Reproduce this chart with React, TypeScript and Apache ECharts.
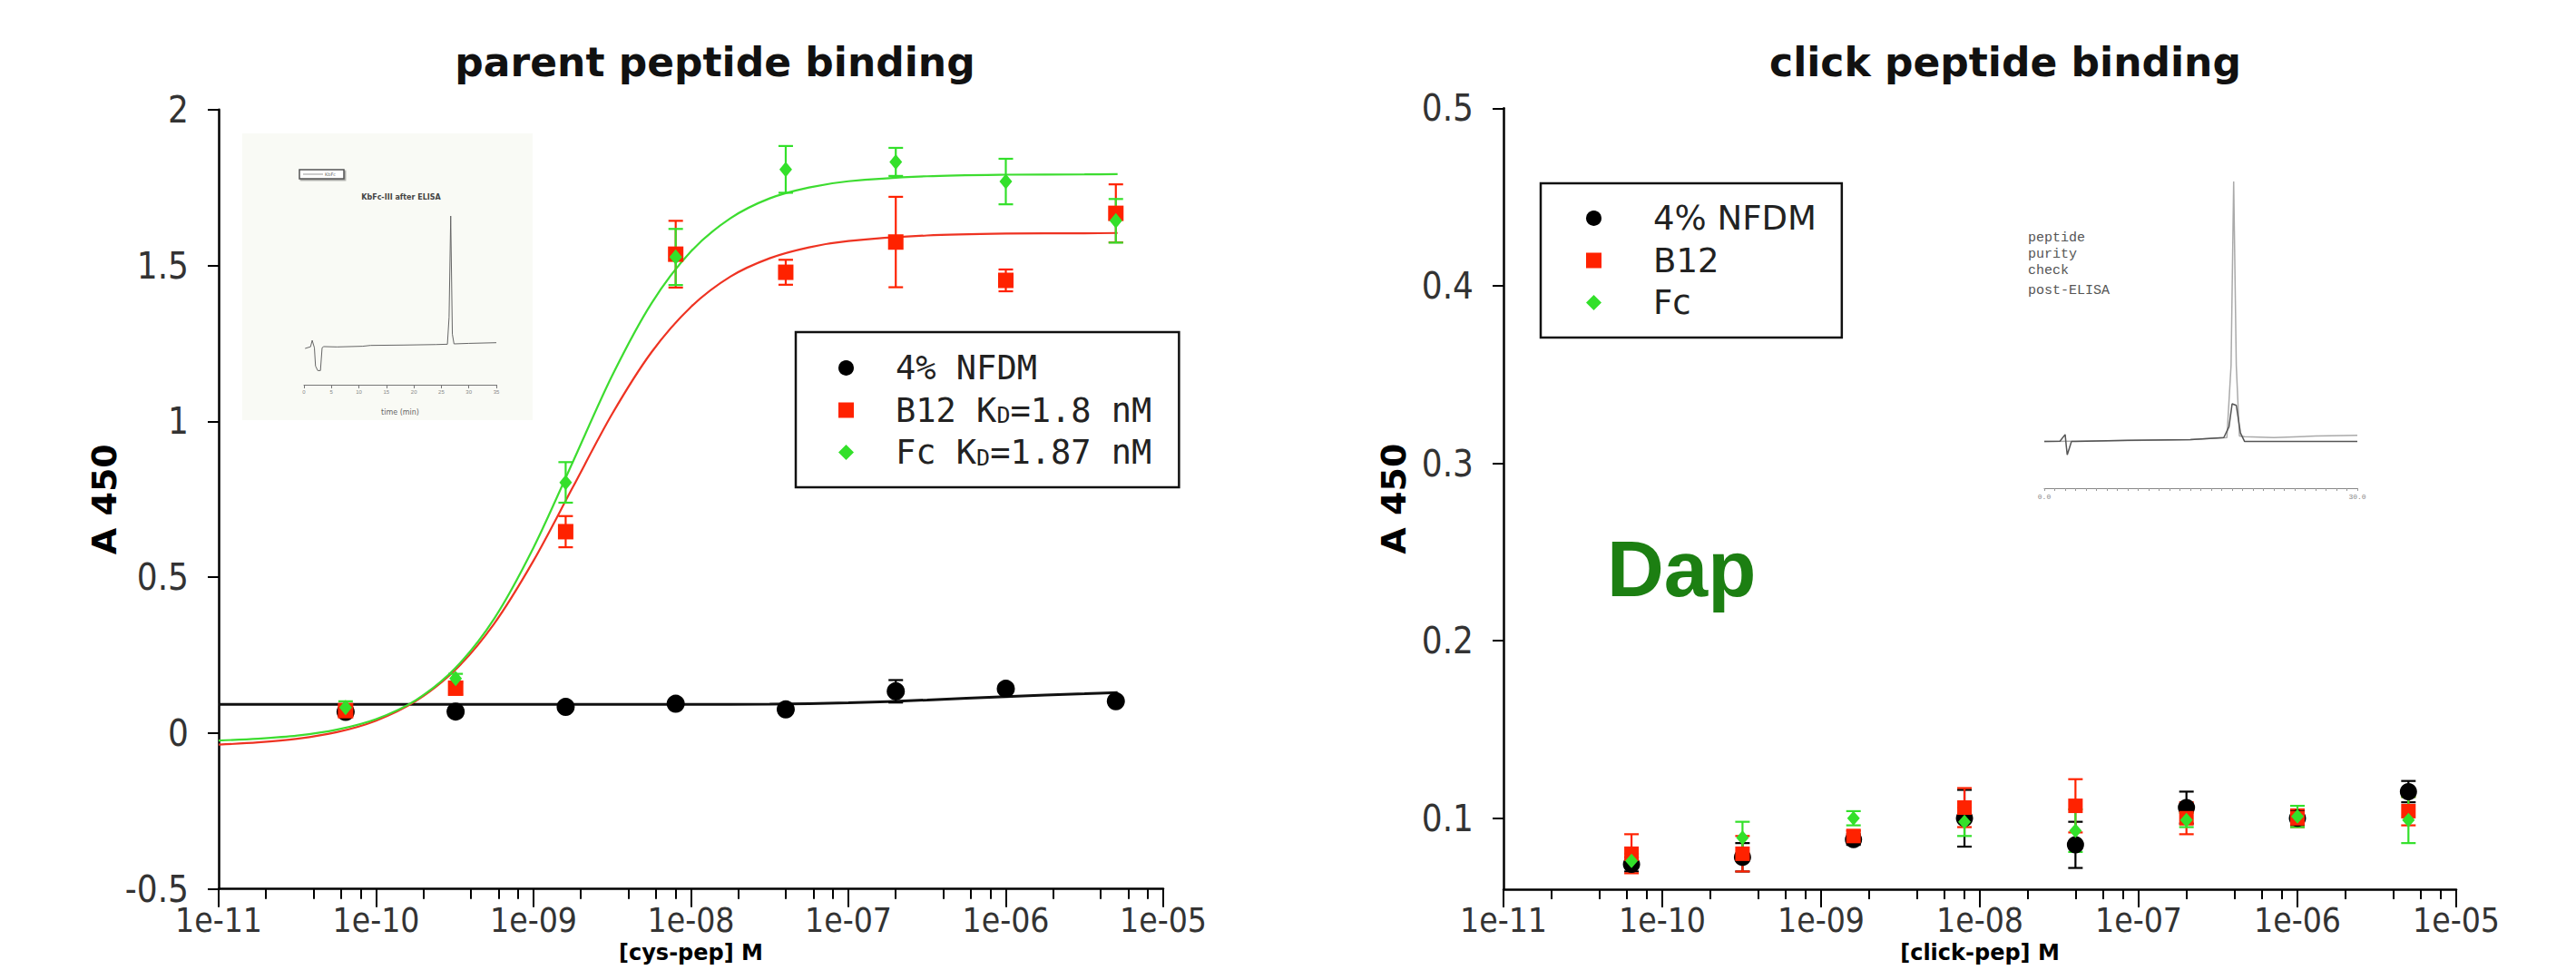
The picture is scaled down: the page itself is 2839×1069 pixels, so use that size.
import React, { useEffect, useRef } from 'react';
import * as echarts from 'echarts';

// ---------- data ----------
const concM = [6.4e-11, 3.2e-10, 1.6e-9, 8e-9, 4e-8, 2e-7, 1e-6, 5e-6];
const xTickLog = [-11, -10, -9, -8, -7, -6, -5];
const xTickLabels = ['1e-11', '1e-10', '1e-09', '1e-08', '1e-07', '1e-06', '1e-05'];
const minorMultipliers = [2, 4, 6, 8];

const clickYTicks = [0.1, 0.2, 0.3, 0.4, 0.5];

const parentNFDM = [0.068, 0.069, 0.084, 0.094, 0.076, 0.134, 0.142, 0.102];
const parentNFDMErr = [0.01, 0.008, 0.008, 0.008, 0.008, 0.036, 0.012, 0.01];
const parentB12 = [0.072, 0.144, 0.646, 1.536, 1.478, 1.575, 1.452, 1.667];
const parentB12Err = [0.02, 0.02, 0.05, 0.107, 0.04, 0.145, 0.035, 0.093];
const parentFc = [0.082, 0.175, 0.804, 1.527, 1.808, 1.832, 1.769, 1.643];
const parentFcErr = [0.02, 0.015, 0.065, 0.09, 0.075, 0.045, 0.073, 0.07];

// fitted curves (x in log10 M)
const fitLogConc = [-11, -10.75, -10.5, -10.25, -10, -9.75, -9.5, -9.25, -9, -8.75, -8.5, -8.25, -8, -7.75, -7.5, -7.25, -7, -6.5, -6, -5.5, -5.29];
const fitFc = [-0.024, -0.018, -0.008, 0.011, 0.045, 0.105, 0.207, 0.367, 0.595, 0.87, 1.147, 1.379, 1.545, 1.651, 1.715, 1.75, 1.77, 1.786, 1.791, 1.792, 1.793];
const fitB12 = [-0.037, -0.03, -0.018, 0.003, 0.04, 0.102, 0.201, 0.351, 0.553, 0.789, 1.024, 1.222, 1.367, 1.464, 1.523, 1.558, 1.578, 1.596, 1.602, 1.603, 1.604];
const fitNFDMLogConc = [-11, -9, -8, -7.5, -7, -6.5, -6, -5.5, -5.29];
const fitNFDM = [0.092, 0.092, 0.092, 0.093, 0.097, 0.106, 0.117, 0.126, 0.13];

const clickNFDM = [0.074, 0.078, 0.088, 0.1, 0.085, 0.106, 0.1, 0.115];
const clickNFDMErr = [0.004, 0.008, 0.003, 0.016, 0.013, 0.009, 0.004, 0.006];
const clickB12 = [0.08, 0.08, 0.09, 0.106, 0.107, 0.1, 0.1, 0.104];
const clickB12Err = [0.011, 0.01, 0.003, 0.011, 0.015, 0.009, 0.005, 0.008];
const clickFc = [0.076, 0.089, 0.1, 0.098, 0.093, 0.099, 0.101, 0.099];
const clickFcErr = [0.004, 0.009, 0.004, 0.008, 0.012, 0.004, 0.006, 0.013];

// inset chromatograms (time in min, signal in arbitrary units)
const kbTime = [0.2, 1.2, 1.5, 1.9, 2.1, 2.5, 3.0, 3.3, 3.6, 6, 10.7, 12.1, 18, 24, 26.1, 26.4, 26.7, 27.0, 27.3, 30, 35];
const kbSignal = [21.5, 22.5, 26.3, 21.9, 11.1, 8.4, 8.4, 21.9, 22.6, 22.4, 22.8, 23.3, 23.5, 23.8, 24, 40, 100, 30, 24.2, 24.5, 24.9];

const purityTimeDark = [0, 1.5, 2.0, 2.1, 2.2, 2.4, 2.6, 3, 8, 14, 17.2, 17.7, 18.0, 18.4, 18.8, 19.2, 22, 26, 30];
const puritySignalDark = [15.2, 15.3, 17.5, 14, 10.9, 13, 15.2, 15.2, 15.6, 15.8, 16.5, 20, 27.5, 27, 18, 15.2, 15.2, 15.2, 15.2];
const purityTimeLight = [0, 8, 14, 17.5, 17.9, 18.15, 18.4, 18.7, 19.2, 22, 26, 30];
const puritySignalLight = [15.2, 15.5, 15.8, 16.5, 40, 100, 40, 17, 16.8, 16.5, 17, 17.2];
const purityAxisLabels = [0, 30];

const parentLegendNames = ['NFDM (parent)', 'B12 (parent)', 'Fc (parent)'];
const parentLegendLabels = ['4% NFDM', 'B12 K{sub|D}=1.8 nM', 'Fc K{sub|D}=1.87 nM'];
const clickLegendNames = ['NFDM (click)', 'B12 (click)', 'Fc (click)'];
const clickLegendLabels = ['4% NFDM', 'B12', 'Fc'];
const insetNoteLines = ['peptide', 'purity', 'check', 'post-ELISA'];

// ---------- styles ----------
const BLACK = '#000000';
const RED = '#ff2200';
const GREEN = '#33e02a';
const TICK_FONT = "'DejaVu Sans Condensed', 'DejaVu Sans', sans-serif";
const BOLD_FONT = "'DejaVu Sans', sans-serif";

const fmtX = (v: number) => {
  const i = xTickLog.indexOf(Math.round(v));
  return i >= 0 ? xTickLabels[i] : '';
};

const minorTicks: number[] = [];
xTickLog.slice(0, -1).forEach((d) => minorMultipliers.forEach((m) => minorTicks.push(d + Math.log10(m))));

function majorXAxis(gridIndex: number, name: string) {
  return {
    type: 'value', gridIndex, min: -11, max: -5, position: 'bottom',
    name, nameLocation: 'middle', nameGap: 57,
    nameTextStyle: { fontFamily: BOLD_FONT, fontWeight: 'bold', fontSize: 24, color: '#000' },
    axisLine: { show: true, onZero: false, lineStyle: { color: '#000', width: 2.5 } },
    axisTick: { show: true, length: 20, customValues: xTickLog, lineStyle: { color: '#000', width: 2 } },
    axisLabel: { customValues: xTickLog, formatter: fmtX, margin: 16, fontSize: 37, color: '#333', fontFamily: TICK_FONT },
    splitLine: { show: false },
  };
}
function minorXAxis(gridIndex: number) {
  return {
    type: 'value', gridIndex, min: -11, max: -5, position: 'bottom',
    axisLine: { show: false, onZero: false },
    axisTick: { show: true, length: 11, customValues: minorTicks, lineStyle: { color: '#000', width: 2 } },
    axisLabel: { show: false },
    splitLine: { show: false },
  };
}
function yAxisBase(gridIndex: number, extra: any) {
  return {
    type: 'value', gridIndex,
    name: 'A 450', nameLocation: 'middle', nameRotate: 90,
    nameTextStyle: { fontFamily: BOLD_FONT, fontWeight: 'bold', fontSize: 38, color: '#000' },
    axisLine: { show: true, onZero: false, lineStyle: { color: '#000', width: 2.5 } },
    axisTick: { show: true, length: 12, lineStyle: { color: '#000', width: 2 } },
    axisLabel: { margin: 33, fontSize: 40, color: '#333', fontFamily: TICK_FONT },
    splitLine: { show: false },
    ...extra,
  };
}

function errorSeries(name: string, xi: number, yi: number, vals: number[], errs: number[], color: string) {
  return {
    type: 'custom', name, xAxisIndex: xi, yAxisIndex: yi, z: 3,
    data: concM.map((c, i) => [Math.log10(c), vals[i], errs[i]]),
    renderItem: (_p: any, api: any) => {
      const x = api.value(0), y = api.value(1), e = api.value(2);
      const top = api.coord([x, y + e]);
      const bot = api.coord([x, y - e]);
      const hw = 8;
      const style = { stroke: color, lineWidth: 2.2 };
      return {
        type: 'group',
        children: [
          { type: 'line', shape: { x1: top[0], y1: top[1], x2: bot[0], y2: bot[1] }, style },
          { type: 'line', shape: { x1: top[0] - hw, y1: top[1], x2: top[0] + hw, y2: top[1] }, style },
          { type: 'line', shape: { x1: bot[0] - hw, y1: bot[1], x2: bot[0] + hw, y2: bot[1] }, style },
        ],
      };
    },
  };
}
function pointSeries(name: string, xi: number, yi: number, vals: number[], color: string, symbol: string, size: any) {
  return {
    type: 'scatter', name, xAxisIndex: xi, yAxisIndex: yi, z: 4,
    symbol, symbolSize: size, itemStyle: { color, opacity: 1 },
    data: concM.map((c, i) => [Math.log10(c), vals[i]]),
  };
}
function fitSeries(name: string, xs: number[], ys: number[], color: string, width: number) {
  return {
    type: 'line', name, xAxisIndex: 0, yAxisIndex: 0, z: 2, smooth: 0.3, showSymbol: false,
    lineStyle: { color, width }, itemStyle: { color },
    data: xs.map((x, i) => [x, ys[i]]),
  };
}

function legendCfg(left: number, top: number, padding: number[], names: string[], labels: string[], font: string, textPad: number, lineH: number) {
  return {
    orient: 'vertical', left, top, padding,
    itemWidth: 17, itemHeight: 17, itemGap: 9.5,
    borderColor: '#111', borderWidth: 2.5, backgroundColor: '#fff',
    selectedMode: false,
    data: [
      { name: names[0], icon: 'circle' },
      { name: names[1], icon: 'rect' },
      { name: names[2], icon: 'diamond' },
    ],
    formatter: (n: string) => labels[names.indexOf(n)],
    textStyle: {
      fontFamily: font, fontSize: 37, color: '#222', lineHeight: lineH, padding: [0, 0, 0, textPad],
      rich: { sub: { fontFamily: font, fontSize: 25, lineHeight: 25, verticalAlign: 'bottom', color: '#222' } },
    },
  };
}

export default function App() {
  const ref = useRef<HTMLDivElement>(null);
  useEffect(() => {
    if (!ref.current) return;
    const chart = echarts.init(ref.current, null, { renderer: 'svg' });
    const gridBase = { containLabel: false, outerBoundsMode: 'none' };
    const option: any = {
      animation: false,
      backgroundColor: '#fff',
      grid: [
        { ...gridBase, left: 241, top: 120.7, width: 1041, height: 859 },
        { ...gridBase, left: 1657, top: 119.3, width: 1050, height: 860.7 },
        { ...gridBase, left: 335, top: 238, width: 212, height: 186 },
        { ...gridBase, left: 2253, top: 200, width: 345, height: 338 },
      ],
      xAxis: [
        majorXAxis(0, '[cys-pep] M'),
        minorXAxis(0),
        majorXAxis(1, '[click-pep] M'),
        minorXAxis(1),
        {
          type: 'value', gridIndex: 2, min: 0, max: 35, interval: 5, position: 'bottom',
          name: 'time (min)', nameLocation: 'middle', nameGap: 26,
          nameTextStyle: { fontSize: 8, color: '#666', fontFamily: 'DejaVu Sans' },
          axisLine: { show: true, onZero: false, lineStyle: { color: '#777', width: 1 } },
          axisTick: { show: true, length: 4, lineStyle: { color: '#777', width: 1 } },
          axisLabel: { fontSize: 6, color: '#888', margin: 5 },
          splitLine: { show: false },
        },
        {
          type: 'value', gridIndex: 3, min: 0, max: 30, interval: 1, position: 'bottom',
          axisLine: { show: true, onZero: false, lineStyle: { color: '#888', width: 1.2 } },
          axisTick: { show: true, length: 3, lineStyle: { color: '#999', width: 1 } },
          axisLabel: { customValues: purityAxisLabels, formatter: (v: number) => v.toFixed(1), fontSize: 8, color: '#888', margin: 5, fontFamily: 'Liberation Mono' },
          splitLine: { show: false },
        },
      ],
      yAxis: [
        yAxisBase(0, { min: -0.5, max: 2, interval: 0.5, nameGap: 103 }),
        yAxisBase(1, {
          min: 0.06, max: 0.5, nameGap: 102,
          axisTick: { show: true, length: 12, customValues: clickYTicks, lineStyle: { color: '#000', width: 2 } },
          axisLabel: { customValues: clickYTicks, margin: 33, fontSize: 40, color: '#333', fontFamily: TICK_FONT },
        }),
        { type: 'value', gridIndex: 2, min: 0, max: 100, show: false },
        { type: 'value', gridIndex: 3, min: 0, max: 100, show: false },
      ],
      legend: [
        legendCfg(877, 366, [21, 30, 20, 47], parentLegendNames, parentLegendLabels, "'DejaVu Sans Mono', monospace", 41, 36),
        legendCfg(1698, 202, [20, 28, 20, 50], clickLegendNames, clickLegendLabels, "'DejaVu Sans', sans-serif", 52, 37),
      ],
      graphic: [
        { type: 'text', x: 788, y: 68, style: { text: 'parent peptide binding', font: `bold 44px ${BOLD_FONT}`, fill: '#111', align: 'center', verticalAlign: 'middle' } },
        { type: 'text', x: 2210, y: 68, style: { text: 'click peptide binding', font: `bold 44px ${BOLD_FONT}`, fill: '#111', align: 'center', verticalAlign: 'middle' } },
        { type: 'rect', z: -1, shape: { x: 267, y: 147, width: 320, height: 316 }, style: { fill: '#f9faf5' } },
        { type: 'rect', shape: { x: 330, y: 187, width: 49, height: 10 }, style: { fill: '#fff', stroke: '#555', lineWidth: 1.5, shadowColor: 'rgba(0,0,0,0.35)', shadowOffsetX: 1.5, shadowOffsetY: 1.5 } },
        { type: 'line', shape: { x1: 334, y1: 192, x2: 356, y2: 192 }, style: { stroke: '#999', lineWidth: 1 } },
        { type: 'text', x: 358, y: 192, style: { text: 'KbFc', font: '5px DejaVu Sans', fill: '#666', verticalAlign: 'middle' } },
        { type: 'text', x: 442, y: 217, style: { text: 'KbFc-III after ELISA', font: 'bold 8px DejaVu Sans', fill: '#444', align: 'center', verticalAlign: 'middle' } },
        ...insetNoteLines.map((t, i) => ({
          type: 'text', x: 2235, y: [262, 280, 298, 320][i],
          style: { text: t, font: '15px Liberation Mono', fill: '#555', verticalAlign: 'middle' },
        })),
        { type: 'text', x: 1771, y: 626, style: { text: 'Dap', font: "bold 87px 'Liberation Sans', Arial, sans-serif", fill: '#1c7f12', verticalAlign: 'middle' } },
      ],
      series: [
        fitSeries('fit NFDM (parent)', fitNFDMLogConc, fitNFDM, '#111', 3),
        fitSeries('fit B12 (parent)', fitLogConc, fitB12, '#ee3322', 2.2),
        fitSeries('fit Fc (parent)', fitLogConc, fitFc, '#3ddc30', 2.2),
        errorSeries('err NFDM (parent)', 0, 0, parentNFDM, parentNFDMErr, BLACK),
        errorSeries('err B12 (parent)', 0, 0, parentB12, parentB12Err, RED),
        errorSeries('err Fc (parent)', 0, 0, parentFc, parentFcErr, GREEN),
        pointSeries('NFDM (parent)', 0, 0, parentNFDM, BLACK, 'circle', 20),
        pointSeries('B12 (parent)', 0, 0, parentB12, RED, 'rect', 17),
        pointSeries('Fc (parent)', 0, 0, parentFc, GREEN, 'diamond', [14, 17]),
        errorSeries('err NFDM (click)', 2, 1, clickNFDM, clickNFDMErr, BLACK),
        errorSeries('err B12 (click)', 2, 1, clickB12, clickB12Err, RED),
        errorSeries('err Fc (click)', 2, 1, clickFc, clickFcErr, GREEN),
        pointSeries('NFDM (click)', 2, 1, clickNFDM, BLACK, 'circle', 19),
        pointSeries('B12 (click)', 2, 1, clickB12, RED, 'rect', 16),
        pointSeries('Fc (click)', 2, 1, clickFc, GREEN, 'diamond', [14, 16]),
        {
          type: 'line', name: 'KbFc-III', xAxisIndex: 4, yAxisIndex: 2, showSymbol: false, z: 2,
          lineStyle: { color: '#666', width: 1 }, data: kbTime.map((t, i) => [t, kbSignal[i]]),
        },
        {
          type: 'line', name: 'purity light', xAxisIndex: 5, yAxisIndex: 3, showSymbol: false, z: 2,
          lineStyle: { color: '#aaa', width: 1.5 }, data: purityTimeLight.map((t, i) => [t, puritySignalLight[i]]),
        },
        {
          type: 'line', name: 'purity dark', xAxisIndex: 5, yAxisIndex: 3, showSymbol: false, z: 3,
          lineStyle: { color: '#555', width: 1.5 }, data: purityTimeDark.map((t, i) => [t, puritySignalDark[i]]),
        },
      ],
    };
    chart.setOption(option);
    return () => chart.dispose();
  }, []);
  return <div ref={ref} style={{ position: 'fixed', left: 0, top: 0, width: 2839, height: 1069 }} />;
}
